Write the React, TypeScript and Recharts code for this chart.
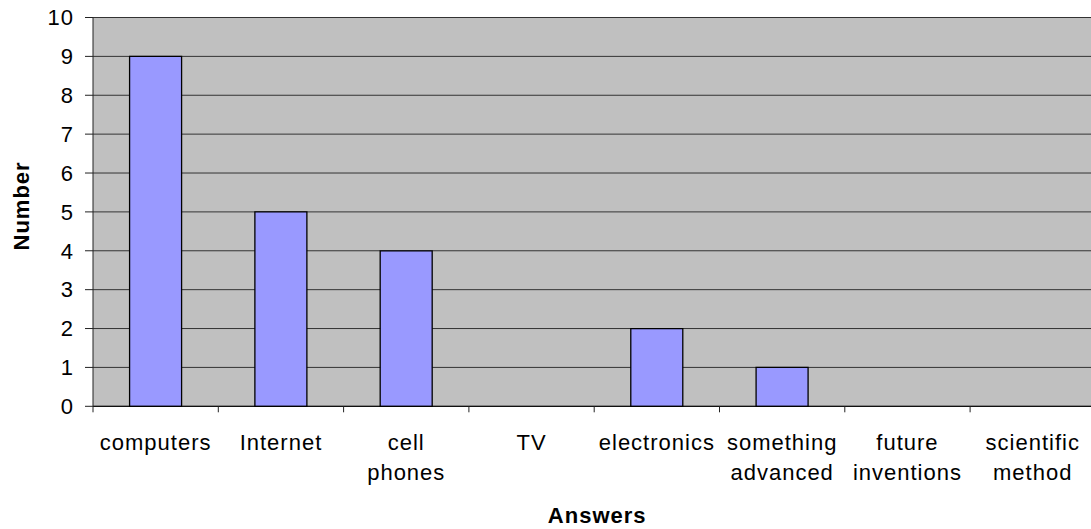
import React from "react";
import { BarChart, Bar, XAxis, YAxis, CartesianGrid, Label } from "recharts";

const categories: string[] = [
  "computers",
  "Internet",
  "cell\nphones",
  "TV",
  "electronics",
  "something\nadvanced",
  "future\ninventions",
  "scientific\nmethod",
];
const counts: number[] = [9, 5, 4, 0, 2, 1, 0, 0];
const yTicks: number[] = [0, 1, 2, 3, 4, 5, 6, 7, 8, 9, 10];

const data = categories.map((c, i) => ({ name: c, value: counts[i] }));

const FONT = "'Liberation Sans', Arial, Helvetica, sans-serif";
const CHART_W = 1098;
const CHART_H = 529;
const Y_W = 93;
const M_RIGHT = 2.6;
const M_TOP = 17.5;
const X_H = 122.7;
const LS = 1;

const XTick = (props: any) => {
  const { x, y, payload, index, visibleTicksCount } = props;
  const plotW = CHART_W - Y_W - M_RIGHT;
  const half =
    payload && typeof payload.offset === "number" && payload.offset > 0
      ? payload.offset
      : plotW / categories.length / 2;
  const lines = String(payload.value).split("\n");
  const last = index === (visibleTicksCount ?? categories.length) - 1;
  return (
    <g>
      <line x1={x - half} x2={x - half} y1={y} y2={y + 6} stroke="#222" strokeWidth={1} />
      {last && <line x1={x + half} x2={x + half} y1={y} y2={y + 6} stroke="#222" strokeWidth={1} />}
      <text
        x={x}
        y={y + 44}
        textAnchor="middle"
        fontFamily={FONT}
        fontSize={22}
        letterSpacing={LS}
        fill="#000"
      >
        {lines.map((l, i) => (
          <tspan key={i} x={x} y={y + 44 + i * 30}>
            {l}
          </tspan>
        ))}
      </text>
    </g>
  );
};

const XTitle = (props: any) => {
  const vb = props.viewBox || {};
  return (
    <text
      x={vb.x + vb.width / 2 + 3}
      y={vb.y + 117}
      textAnchor="middle"
      fontFamily={FONT}
      fontSize={22}
      fontWeight="bold"
      letterSpacing={LS}
      fill="#000"
    >
      Answers
    </text>
  );
};

const YTitle = (props: any) => {
  const vb = props.viewBox || {};
  const cx = 22;
  const cy = vb.y + vb.height / 2 - 6;
  return (
    <text
      x={cx}
      y={cy}
      textAnchor="middle"
      dominantBaseline="central"
      transform={`rotate(-90, ${cx}, ${cy})`}
      fontFamily={FONT}
      fontSize={22}
      fontWeight="bold"
      letterSpacing={LS}
      fill="#000"
    >
      Number
    </text>
  );
};

export default function App() {
  return (
    <div
      style={{
        position: "absolute",
        left: 0,
        top: 0,
        width: 1091,
        height: CHART_H,
        overflow: "hidden",
      }}
    >
      <BarChart
        width={CHART_W}
        height={CHART_H}
        data={data}
        margin={{ top: M_TOP, right: M_RIGHT, bottom: 0, left: 0 }}
        barCategoryGap="29.2%"
      >
        <CartesianGrid
          vertical={false}
          horizontal={true}
          stroke="#333"
          strokeWidth={1}
          fill="#C0C0C0"
          fillOpacity={1}
        />
        <XAxis
          dataKey="name"
          height={X_H}
          interval={0}
          tickLine={false}
          tickSize={0}
          tickMargin={0}
          axisLine={{ stroke: "#000", strokeWidth: 1 }}
          tick={<XTick />}
        >
          <Label content={<XTitle />} />
        </XAxis>
        <YAxis
          width={Y_W}
          domain={[0, 10]}
          ticks={yTicks}
          interval={0}
          allowDecimals={false}
          tickSize={8}
          tickMargin={11}
          tickLine={{ stroke: "#222", strokeWidth: 1 }}
          axisLine={{ stroke: "#222", strokeWidth: 1 }}
          tick={{ fontFamily: FONT, fontSize: 22, fill: "#000", letterSpacing: LS }}
        >
          <Label content={<YTitle />} />
        </YAxis>
        <Bar
          dataKey="value"
          fill="#9999FF"
          stroke="#000"
          strokeWidth={1.3}
          isAnimationActive={false}
        />
      </BarChart>
    </div>
  );
}
